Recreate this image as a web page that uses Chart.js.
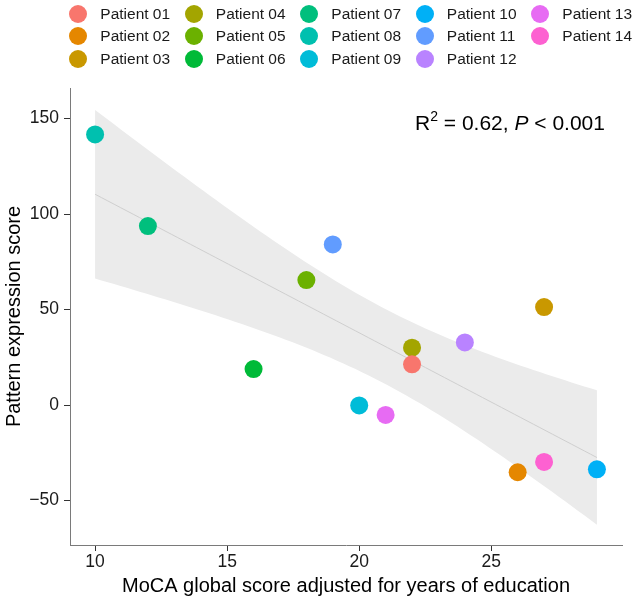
<!DOCTYPE html>
<html>
<head>
<meta charset="utf-8">
<script src="https://cdn.jsdelivr.net/npm/chart.js@4/dist/chart.umd.min.js"></script>
<style>
  html, body { margin: 0; padding: 0; background: #fff; }
  #wrap { position: relative; width: 633px; height: 601px; font-family: "Liberation Sans", Arial, sans-serif; }
  #chart { position: absolute; left: 0; top: 0; }
  .lg { position: absolute; display: flex; align-items: center; font-size: 15.5px; color: #1a1a1a; white-space: nowrap; height: 22px; }
  .lg span.dot { display: inline-block; width: 18px; height: 18px; border-radius: 50%; margin-right: 13px; }
  #ann { position: absolute; left: 415px; top: 105px; font-size: 21px; color: #000; white-space: nowrap; line-height: 24px; }
  #ann sup { font-size: 14px; position: relative; top: -1px; }
</style>
</head>
<body>
<div id="wrap">
  <canvas id="chart" width="633" height="601"></canvas>
  <div id="legend"></div>
  <div id="ann">R<sup>2</sup> = 0.62, <i>P</i> &lt; 0.001</div>
</div>
<script>
// ---- data ----
const patients = ["Patient 01","Patient 02","Patient 03","Patient 04","Patient 05","Patient 06","Patient 07",
                  "Patient 08","Patient 09","Patient 10","Patient 11","Patient 12","Patient 13","Patient 14"];
const mocaScores = [22, 26, 27, 22, 18, 16, 12, 10, 20, 29, 19, 24, 21, 27];
const patternScores = [21.3, -35.2, 51.3, 30.0, 65.4, 18.8, 93.7, 141.7, -0.2, -33.7, 84.1, 32.8, -5.2, -29.8];
const colors = ["#F8766D","#E58700","#C99800","#A3A500","#6BB100","#00BA38","#00BF7D",
                "#00C0AF","#00BCD8","#00B0F6","#619CFF","#B983FF","#E76BF3","#FD61D1"];
const xTicks = [10, 15, 20, 25];
const yTicks = [-50, 0, 50, 100, 150];

// ---- linear fit with 95% confidence band (as geom_smooth(method = "lm")) ----
const n = mocaScores.length;
const xbar = mocaScores.reduce((a, b) => a + b, 0) / n;
const ybar = patternScores.reduce((a, b) => a + b, 0) / n;
let sxx = 0, sxy = 0;
for (let i = 0; i < n; i++) { sxx += (mocaScores[i] - xbar) ** 2; sxy += (mocaScores[i] - xbar) * (patternScores[i] - ybar); }
const slope = sxy / sxx, intercept = ybar - slope * xbar;
let sse = 0;
for (let i = 0; i < n; i++) sse += (patternScores[i] - (intercept + slope * mocaScores[i])) ** 2;
const sRes = Math.sqrt(sse / (n - 2));
const tCrit = 2.1788; // t(0.975, df = 12)
const xMin = Math.min(...mocaScores), xMax = Math.max(...mocaScores);
const fitLine = [], bandUpper = [], bandLower = [];
for (let k = 0; k < 80; k++) {
  const x = xMin + (xMax - xMin) * k / 79;
  const f = intercept + slope * x;
  const se = sRes * Math.sqrt(1 / n + (x - xbar) ** 2 / sxx);
  fitLine.push({x, y: f});
  bandUpper.push({x, y: f + tCrit * se});
  bandLower.push({x, y: f - tCrit * se});
}

// ---- legend (column-major, 3 rows x 5 columns) ----
const legendEl = document.getElementById('legend');
patients.forEach((p, i) => {
  const col = Math.floor(i / 3), row = i % 3;
  const d = document.createElement('div');
  d.className = 'lg';
  d.style.left = (69.3 + col * 115.5) + 'px';
  d.style.top = (2.5 + row * 22.5) + 'px';
  d.innerHTML = '<span class="dot" style="background:' + colors[i] + '"></span>' + p;
  legendEl.appendChild(d);
});

const datasets = patients.map((p, i) => ({
  type: 'scatter',
  label: p,
  data: [{x: mocaScores[i], y: patternScores[i]}],
  backgroundColor: colors[i],
  borderWidth: 0,
  pointRadius: 9,
  order: 0
}));
datasets.push({
  type: 'line', label: 'fit', data: fitLine, borderColor: '#cfcfcf', borderWidth: 1,
  pointRadius: 0, fill: false, order: 1, tension: 0
});
datasets.push({
  type: 'line', label: 'upper', data: bandUpper, borderWidth: 0, borderColor: 'rgba(0,0,0,0)',
  backgroundColor: '#ebebeb', pointRadius: 0, fill: '+1', order: 2, tension: 0
});
datasets.push({
  type: 'line', label: 'lower', data: bandLower, borderWidth: 0, borderColor: 'rgba(0,0,0,0)',
  pointRadius: 0, fill: false, order: 3, tension: 0
});

const font = "'Liberation Sans', Arial, sans-serif";
const fmt = v => (v < 0 ? '\u2212' + Math.abs(v) : String(v));

new Chart(document.getElementById('chart'), {
  type: 'scatter',
  data: { datasets },
  options: {
    responsive: false,
    animation: false,
    layout: { padding: { left: 0, right: 11, top: 88, bottom: 0 } },
    plugins: { legend: { display: false }, tooltip: { enabled: false } },
    scales: {
      x: {
        type: 'linear', min: 9.05, max: 29.95,
        afterBuildTicks: s => { s.ticks = xTicks.map(v => ({value: v})); },
        afterFit: s => { s.height = 56; },
        grid: { drawOnChartArea: false, drawTicks: true, tickLength: 6, color: '#333', lineWidth: 1 },
        border: { display: true, color: '#7a7a7a', width: 1 },
        ticks: { font: { family: font, size: 17.5 }, color: '#1a1a1a', padding: 1, callback: fmt, maxRotation: 0 },
        title: { display: true, text: 'MoCA global score adjusted for years of education',
                 font: { family: font, size: 20 }, color: '#000', padding: { top: 0, bottom: 3 } }
      },
      y: {
        type: 'linear', min: -73.3, max: 166,
        afterBuildTicks: s => { s.ticks = yTicks.map(v => ({value: v})); },
        afterFit: s => { s.width = 70; },
        grid: { drawOnChartArea: false, drawTicks: true, tickLength: 6, color: '#333', lineWidth: 1 },
        border: { display: true, color: '#7a7a7a', width: 1 },
        ticks: { font: { family: font, size: 17.5 }, color: '#1a1a1a', padding: 5, callback: fmt },
        title: { display: true, text: 'Pattern expression score',
                 font: { family: font, size: 20 }, color: '#000', padding: { top: 2, bottom: 0 } }
      }
    }
  }
});
</script>
</body>
</html>
